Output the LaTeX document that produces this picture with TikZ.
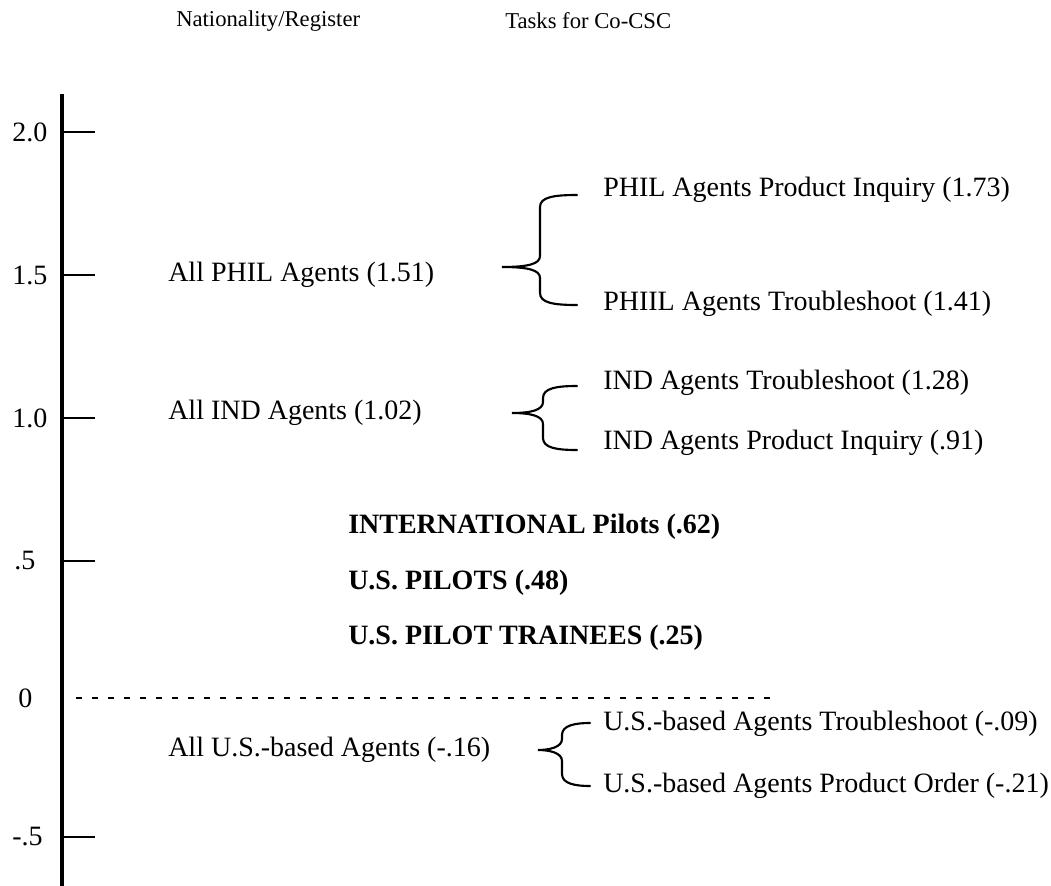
\documentclass[tikz,border=0pt]{standalone}
\usepackage{fontspec}
\setmainfont{Liberation Serif}
\newcommand\mybrace[6]{%
  \draw[brc] (#6,#4) .. controls (#3+14,#4) and (#3,#4+2) .. (#3,#4+12)
    -- (#3,#2-11) .. controls (#3,#2-3) and (#3-12,#2) .. (#1,#2)
    .. controls (#3-12,#2) and (#3,#2+3) .. (#3,#2+11)
    -- (#3,#5-12) .. controls (#3,#5-2) and (#3+14,#5) .. (#6,#5);}
\begin{document}
\begin{tikzpicture}[x=0.75pt,y=-0.75pt,
  lbl/.style={anchor=west,inner sep=0pt,font=\fontsize{21}{25}\selectfont},
  hdr/.style={anchor=west,inner sep=0pt,font=\fontsize{17}{21}\selectfont},
  bld/.style={lbl,font=\fontsize{21}{25}\selectfont\bfseries},
  axisline/.style={line width=3pt},
  tickline/.style={line width=1.5pt},
  brc/.style={line width=1.6pt,line cap=round},
  zeroline/.style={line width=1.1pt,dash pattern=on 4.5pt off 7.5pt}]
\useasboundingbox (0,0) rectangle (1051,886);
% headers
\node[hdr] (h1) at (176,21) {Nationality/Register};
\node[hdr] (h2) at (505,21) {Tasks for Co-CSC};
% axis
\coordinate (atop) at (62,94);
\coordinate (abot) at (62,886);
\draw[axisline] (atop) -- (abot);
% ticks
\foreach \nm/\yy in {t20/132, t15/275, t10/418, t05/561, tm5/837}{
  \coordinate (\nm) at (62,\yy);
  \draw[tickline] (\nm) -- ++(33,0);
}
% tick labels
\node[lbl] (l20) at (12,132) {2.0};
\node[lbl] (l15) at (12,275) {1.5};
\node[lbl] (l10) at (12,418) {1.0};
\node[lbl] (l05) at (14,561) {.5};
\node[lbl] (l00) at (18,698) {0};
\node[lbl] (lm5) at (12,837) {-.5};
% zero line
\coordinate (z0) at (76,698);
\coordinate (z1) at (770,698);
\draw[zeroline] (z0) -- (z1);
% group labels
\node[lbl] (phil) at (168,275) {All PHIL Agents (1.51)};
\node[lbl] (ind) at (168,413) {All IND Agents (1.02)};
\node[lbl] (us) at (168,750) {All U.S.-based Agents (-.16)};
\node[bld] (intl) at (348,527) {INTERNATIONAL Pilots (.62)};
\node[bld] (uspil) at (348,583) {U.S. PILOTS (.48)};
\node[bld] (ustr) at (348,638) {U.S. PILOT TRAINEES (.25)};
% tasks
\node[lbl] (p1) at (603,190) {PHIL Agents Product Inquiry (1.73)};
\node[lbl] (p2) at (603,304) {PHIIL Agents Troubleshoot (1.41)};
\node[lbl] (i1) at (603,383) {IND Agents Troubleshoot (1.28)};
\node[lbl] (i2) at (603,443) {IND Agents Product Inquiry (.91)};
\node[lbl] (u1) at (603,724) {U.S.-based Agents Troubleshoot (-.09)};
\node[lbl] (u2) at (603,786) {U.S.-based Agents Product Order (-.21)};
% braces
\mybrace{502}{267}{540}{195}{305}{577}
\mybrace{512}{413}{543}{386}{450}{577}
\mybrace{538}{750}{562}{723}{786}{590}
\end{tikzpicture}
\end{document}
